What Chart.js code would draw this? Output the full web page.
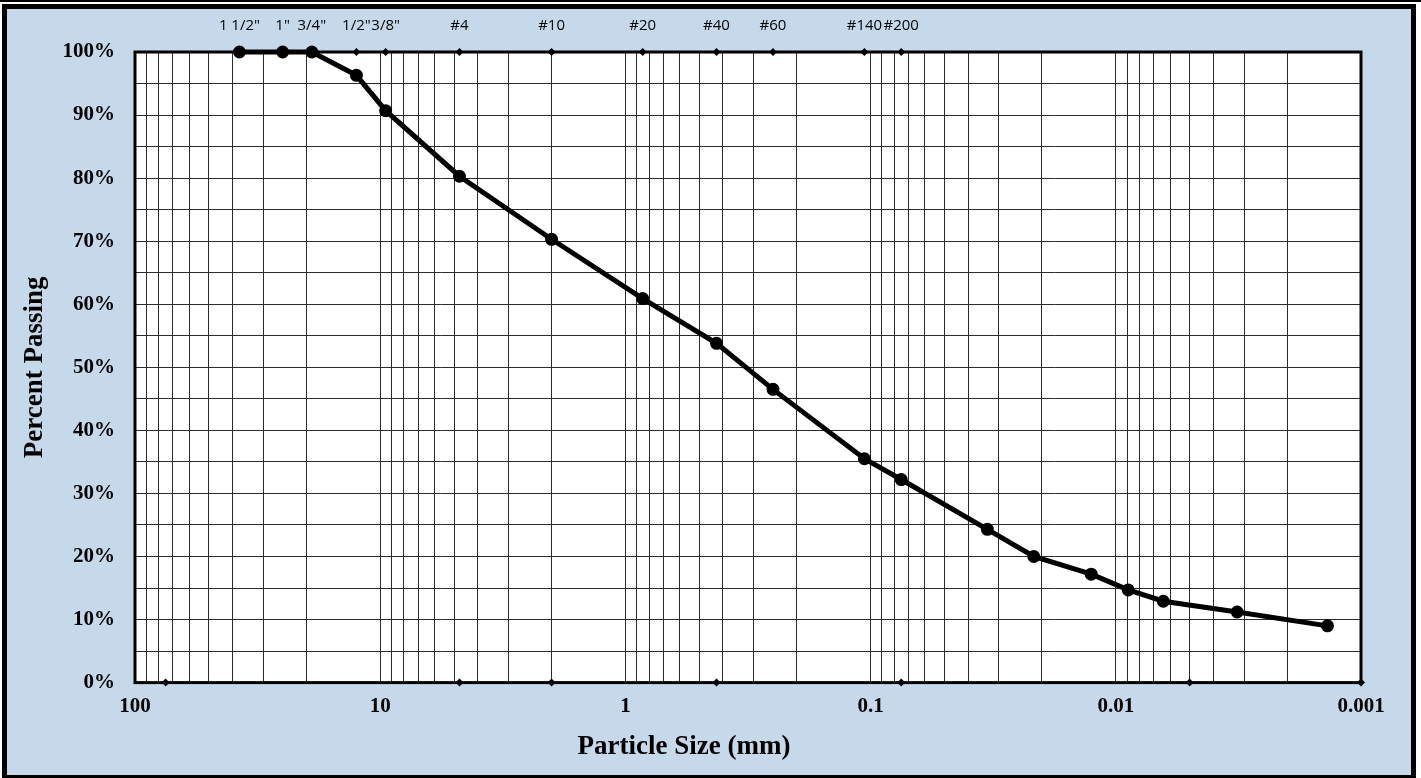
<!DOCTYPE html>
<html>
<head>
<meta charset="utf-8">
<script src="https://cdn.jsdelivr.net/npm/chart.js@4.4.1/dist/chart.umd.min.js"></script>
<style>
  body { margin: 0; background: #fff; }
  .topline { position: absolute; left: 0; top: 0; width: 1421px; height: 2px; background: #000; }
  .frame {
    position: absolute; left: 2px; top: 4px;
    width: 1404px; height: 766px;
    border: 5px solid #000;
    background: #c5d9eb;
  }
  canvas { display: block; }
</style>
</head>
<body>
<div class="topline"></div>
<div class="frame">
  <canvas id="gradChart" width="1404" height="766"></canvas>
</div>
<script>
// sieve sizes shown along the top (mm)
const sieveLabels = ['1 1/2"', '1"', '3/4"', '1/2"', '3/8"', '#4', '#10', '#20', '#40', '#60', '#140', '#200'];
const sieveSizes = [37.5, 25, 19, 12.5, 9.5, 4.75, 2.0, 0.85, 0.425, 0.25, 0.106, 0.075];

// gradation curve
const gradSize = [37.5, 25, 19, 12.5, 9.5, 4.75, 2.0, 0.85, 0.425, 0.25, 0.106, 0.075,
  0.0334, 0.0216, 0.0126, 0.0089, 0.0064, 0.0032, 0.00137];
const gradPassing = [100, 100, 100, 96.3, 90.7, 80.3, 70.3, 60.9, 53.8, 46.5, 35.5, 32.2,
  24.3, 20.0, 17.2, 14.7, 12.9, 11.2, 9.0];

// soil class boundaries marked on the bottom axis
const boundarySizes = [75, 4.75, 2.0, 0.425, 0.075, 0.005, 0.001];

// axis labels
const sizeLabels = [100, 10, 1, 0.1, 0.01, 0.001];
const percentLabels = [0, 10, 20, 30, 40, 50, 60, 70, 80, 90, 100];

const serif = "'Liberation Serif', 'Times New Roman', serif";
const gridColor = '#2a2a2a';

// log gridlines: each decade 1..9
function logGrid() {
  let vals = [];
  sizeLabels.forEach((v) => {
    if (v === 100) { vals.push(v); return; }
    for (let m = 1; m <= 9; m++) vals.push(m === 1 ? v : v * m);
  });
  return vals.map((v) => ({ value: v }));
}

// white plot area + heavy frame round it
const plotFrame = {
  id: 'plotFrame',
  beforeDraw(chart) {
    const a = chart.chartArea;
    const c = chart.ctx;
    c.save();
    c.fillStyle = '#fff';
    c.fillRect(a.left, a.top, a.right - a.left, a.bottom - a.top);
    c.restore();
  },
  afterDatasetsDraw(chart) {
    const a = chart.chartArea;
    const c = chart.ctx;
    c.save();
    c.strokeStyle = '#000';
    c.lineWidth = 3;
    c.strokeRect(a.left, a.top, a.right - a.left, a.bottom - a.top);
    c.restore();
  },
};

const ctx = document.getElementById('gradChart').getContext('2d');
const gradChart = new Chart(ctx, {
  type: 'line',
  data: {
    datasets: [
      {
        label: 'Gradation',
        data: gradSize.map((s, i) => ({ x: s, y: gradPassing[i] })),
        borderColor: '#000',
        backgroundColor: '#000',
        borderWidth: 5,
        pointRadius: 4,
        pointStyle: 'circle',
        tension: 0,
        clip: false,
        order: 1,
      },
      {
        label: 'Sieves',
        data: sieveSizes.map((s) => ({ x: s, y: 100 })),
        showLine: false,
        pointStyle: 'rectRot',
        pointRadius: 4,
        borderWidth: 0,
        backgroundColor: '#000',
        borderColor: '#000',
        clip: false,
        order: 0,
      },
      {
        label: 'Boundaries',
        data: boundarySizes.map((s) => ({ x: s, y: 0 })),
        showLine: false,
        pointStyle: 'rectRot',
        pointRadius: 4,
        borderWidth: 0,
        backgroundColor: '#000',
        borderColor: '#000',
        clip: false,
        order: 0,
      },
    ],
  },
  options: {
    responsive: false,
    devicePixelRatio: 1,
    animation: false,
    layout: { padding: { top: 0, right: 50, bottom: 0, left: 0 } },
    plugins: {
      legend: { display: false },
      tooltip: { enabled: false },
      title: {
        display: true,
        position: 'bottom',
        text: 'Particle Size (mm)',
        color: '#000',
        font: { family: serif, size: 27, weight: 'bold' },
        padding: { top: 0, bottom: 12 },
      },
    },
    scales: {
      x: {
        type: 'logarithmic',
        position: 'bottom',
        min: 0.001,
        max: 100,
        reverse: true,
        afterBuildTicks: (scale) => { scale.ticks = logGrid(); },
        afterFit: (scale) => { scale.height = 48; },
        ticks: {
          autoSkip: false,
          maxRotation: 0,
          padding: 11,
          color: '#000',
          font: { family: serif, size: 21, weight: 'bold' },
          callback: (val) => (sizeLabels.includes(val) ? String(val) : ''),
        },
        grid: { color: gridColor, lineWidth: 1, drawTicks: false },
        border: { display: false },
      },
      x2: {
        type: 'logarithmic',
        position: 'top',
        min: 0.001,
        max: 100,
        reverse: true,
        afterBuildTicks: (scale) => { scale.ticks = sieveSizes.map((v) => ({ value: v })); },
        afterFit: (scale) => { scale.height = 43; },
        ticks: {
          autoSkip: false,
          maxRotation: 0,
          padding: 17,
          color: '#000',
          font: { family: "'Open Sans', 'Noto Sans', sans-serif", size: 15 },
          callback: (val, i) => sieveLabels[i],
        },
        grid: { display: false, drawTicks: false },
        border: { display: false },
      },
      y: {
        min: 0,
        max: 100,
        afterBuildTicks: (scale) => {
          let t = [];
          percentLabels.forEach((p) => {
            t.push({ value: p });
            if (p < 100) t.push({ value: p + 5 });
          });
          scale.ticks = t;
        },
        afterFit: (scale) => { scale.width = 128; },
        ticks: {
          autoSkip: false,
          padding: 20,
          color: '#000',
          font: { family: serif, size: 21, weight: 'bold' },
          callback: (val) => (percentLabels.includes(val) ? val + '%' : ''),
        },
        grid: { color: gridColor, lineWidth: 1, drawTicks: false },
        border: { display: false },
        title: {
          display: true,
          text: 'Percent Passing',
          color: '#000',
          font: { family: serif, size: 27, weight: 'bold' },
          padding: { top: 12, bottom: 0 },
        },
      },
    },
  },
  plugins: [plotFrame],
});
</script>
</body>
</html>
